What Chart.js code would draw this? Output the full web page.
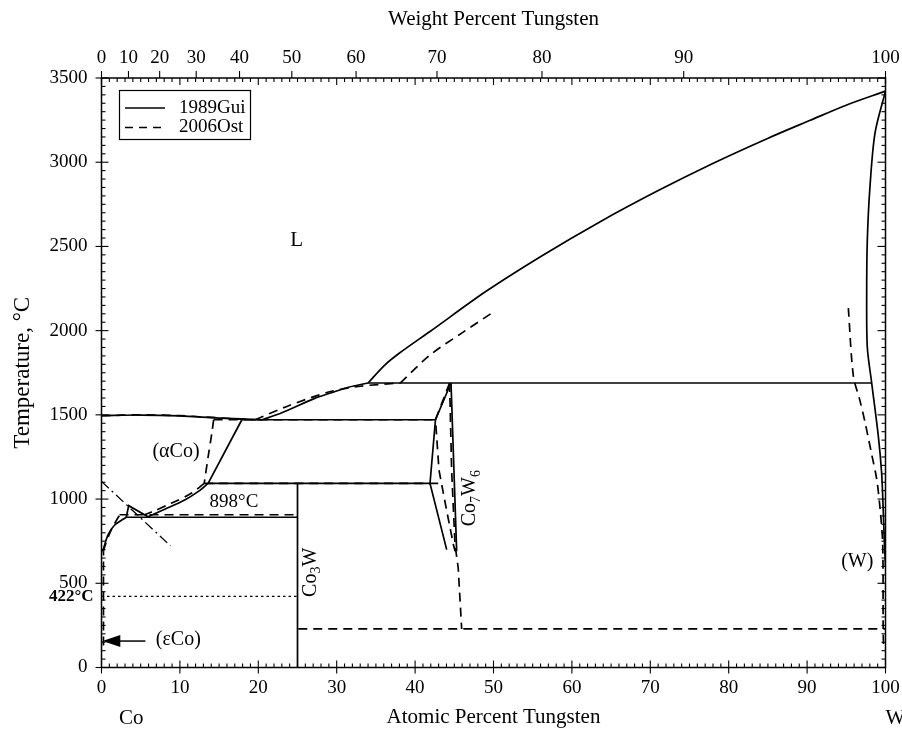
<!DOCTYPE html>
<html><head><meta charset="utf-8">
<script src="https://cdn.jsdelivr.net/npm/chart.js@4.4.0/dist/chart.umd.min.js"></script>
<style>html,body{margin:0;padding:0;background:#fff;}</style>
</head><body>
<canvas id="c" width="902" height="730"></canvas>
<script>
const FONT = "'Liberation Serif','Times New Roman',serif";

// ---- tick labels ----
const atTicks = [0,10,20,30,40,50,60,70,80,90,100];
const wtTicks = [0,10,20,30,40,50,60,70,80,90,100];
const tempTicks = [0,500,1000,1500,2000,2500,3000,3500];

// ---- 1989Gui (solid) : [at.% W, °C] ----
const guiLiquidusCo   = [[0,1495],[5,1499],[10,1494],[15,1481],[20.5,1471]];
const guiLiquidusMid  = [[20.5,1471],[23,1512],[27.2,1598],[29.1,1628],[31.5,1664],[34,1689]];
const guiLiquidusHigh = [[34,1689],[36,1790],[38.1,1870],[41.9,1995],[49.1,2235],[56.3,2448],[63.5,2644],[70.7,2824],[77.9,2991],[85.1,3144],[90.4,3249],[94.9,3337],[100,3422]];
const guiSolidusW     = [[100,3422],[98.66,3173],[98.02,2855],[97.68,2537],[97.6,2219],[97.68,1901],[98.24,1689],[99.09,1371],[99.5,1159],[99.7,947],[99.85,750],[100,600]];
const guiPeritectic   = [[34,1689],[98.24,1689]];
const guiEutectic     = [[17.9,1471],[42.6,1471]];
const guiCo3WTop      = [[13.6,1093],[41.9,1093]];
const guiCo3WBase     = [[3.16,892],[25,892]];
const guiCo3W         = [[25,0],[25,1093]];
const guiAlphaSolvusA = [[17.9,1471],[13.6,1093]];
const guiAlphaSolvusB = [[13.6,1093],[12.31,1044],[10.61,994],[8.06,939],[5.93,895]];
const guiTriangle     = [[3.16,892],[3.47,961],[5.93,895]];
const guiAlphaLow     = [[0.05,690],[0.19,698],[0.83,787],[1.68,846],[2.96,886],[3.16,892]];
const guiCo7W6Left    = [[44.58,1689],[42.6,1471],[41.9,1093],[44.03,700]];
const guiCo7W6Right   = [[44.58,1689],[45.3,690]];

// ---- 2006Ost (dashed) ----
const ostLiquidusCo   = [[0,1495],[5,1500],[10,1495],[15,1482],[19.6,1471]];
const ostLiquidusMid  = [[19.6,1471],[23.8,1553],[29.1,1637],[33,1670],[38.1,1689]];
const ostLiquidusHigh = [[38.1,1689],[41.9,1855],[45.9,1984],[50.2,2117]];
const ostEutectic     = [[14.3,1471],[42.6,1471]];
const ostCo3WTop      = [[13.1,1093],[43.4,1093]];
const ostCo3WBase     = [[2.3,907],[25,907]];
const ostAlphaSolvusA = [[14.3,1471],[14.1,1400],[13.6,1250],[13.1,1093]];
const ostAlphaSolvusB = [[13.1,1093],[11.45,1034],[8.9,975],[6.79,931],[5.51,907]];
const ostAlphaLow     = [[0.25,690],[0.41,717],[1.05,797],[1.68,856],[2.32,905],[2.6,922]];
const ostEpsilon      = [[0.25,130],[0.25,690]];
const ostCo7W6Left    = [[44.4,1689],[42.6,1471],[43.05,1171],[44.03,931],[44.88,730],[45.1,690]];
const ostCo7W6Right   = [[44.4,1689],[44.66,1171],[45.09,730],[45.5,591],[45.94,229]];
const ostLow          = [[25.1,229],[100,229]];
const ostSolvusW      = [[95.26,2134],[95.9,1731],[96.75,1583],[97.39,1456],[98.24,1265],[98.88,1117],[99.3,947],[99.64,735],[99.7,229],[99.75,130]];

// ---- other ----
const curieLine  = [[0,1105],[8.8,722]];
const line422    = [[0,422],[25,422]];

const wtToAt = w => { if (w >= 100) return 100; const a = w/183.84, b = (100-w)/58.933; return 100*a/(a+b); };
const toPts = arr => arr.map(p => ({x:p[0], y:p[1]}));

const SOLID = [], DASH = [9,6];
function ds(arr, dash, tension, width) {
  return { data: toPts(arr), showLine: true, borderColor: '#000', borderWidth: width || 1.7,
           borderDash: dash, pointRadius: 0, tension: tension || 0, fill: false,
           xAxisID: 'x', yAxisID: 'y', borderCapStyle: 'butt', borderJoinStyle: 'miter' };
}

const datasets = [
  ds(guiLiquidusCo, SOLID, 0.3), ds(guiLiquidusMid, SOLID, 0.3), ds(guiLiquidusHigh, SOLID, 0.3),
  ds(guiSolidusW, SOLID, 0.3), ds(guiPeritectic, SOLID), ds(guiEutectic, SOLID), ds(guiCo3WTop, SOLID),
  ds(guiCo3WBase, SOLID), ds(guiCo3W, SOLID), ds(guiAlphaSolvusA, SOLID), ds(guiAlphaSolvusB, SOLID, 0.3),
  ds(guiTriangle, SOLID), ds(guiAlphaLow, SOLID, 0.3), ds(guiCo7W6Left, SOLID), ds(guiCo7W6Right, SOLID),
  ds(ostLiquidusCo, DASH, 0.3), ds(ostLiquidusMid, DASH, 0.3), ds(ostLiquidusHigh, DASH, 0.3),
  ds(ostEutectic, DASH), ds(ostCo3WTop, DASH), ds(ostCo3WBase, DASH), ds(ostAlphaSolvusA, DASH, 0.3),
  ds(ostAlphaSolvusB, DASH, 0.3), ds(ostAlphaLow, DASH, 0.3), ds(ostEpsilon, DASH),
  ds(ostCo7W6Left, DASH), ds(ostCo7W6Right, DASH), ds(ostLow, DASH), ds(ostSolvusW, DASH, 0.3),
  ds(curieLine, [10,4,2,4], 0, 1.3), ds(line422, [2.5,3], 0, 1.3)
];

function subText(ctx, parts, cx, cy, rot, size) {
  ctx.save();
  ctx.translate(cx, cy); ctx.rotate(rot);
  const big = size + 'px ' + FONT, small = Math.round(size*0.72) + 'px ' + FONT;
  let w = 0;
  parts.forEach(p => { ctx.font = p[1] ? small : big; w += ctx.measureText(p[0]).width; });
  let x = -w/2;
  ctx.textBaseline = 'middle'; ctx.textAlign = 'left'; ctx.fillStyle = '#000';
  parts.forEach(p => { ctx.font = p[1] ? small : big; ctx.fillText(p[0], x, p[1] ? size*0.3 : 0); x += ctx.measureText(p[0]).width; });
  ctx.restore();
}

const noPad = s => { s.paddingLeft = 0; s.paddingRight = 0; s.paddingTop = 0; s.paddingBottom = 0; };

const decor = {
  id: 'decor',
  afterDatasetsDraw(chart) {
    const ctx = chart.ctx, xs = chart.scales.x, ys = chart.scales.y;
    const {left:L, right:R, top:T, bottom:B} = chart.chartArea;
    const X = v => xs.getPixelForValue(v), Y = v => ys.getPixelForValue(v);
    ctx.save();
    ctx.strokeStyle = '#000'; ctx.fillStyle = '#000';
    ctx.lineWidth = 1.5; ctx.setLineDash([]);
    ctx.strokeRect(L, T, R-L, B-T);
    ctx.lineWidth = 1.1;
    const seg = (x1,y1,x2,y2) => { ctx.beginPath(); ctx.moveTo(x1,y1); ctx.lineTo(x2,y2); ctx.stroke(); };
    for (let a = 0; a <= 100; a++) {
      const px = X(a);
      if (a % 10 === 0) { seg(px, B+6, px, B-7); seg(px, T, px, T+7); }
      else { seg(px, B, px, B-4); seg(px, T, px, T+4); }
    }
    wtTicks.forEach(w => { const px = X(wtToAt(w)); seg(px, T-7, px, T + (w===0||w===100 ? 6 : 0)); });
    for (let t = 0; t <= 3500; t += 50) {
      const py = Y(t);
      if (t % 500 === 0) { seg(L-6, py, L+7, py); seg(R-8, py, R, py); }
      else { seg(L, py, L+4, py); seg(R-4, py, R, py); }
    }
    // legend
    ctx.lineWidth = 1.2;
    ctx.strokeRect(119.5, 90.5, 131, 49);
    ctx.lineWidth = 1.7;
    seg(125, 108, 165, 108);
    ctx.setLineDash([8,6]); seg(125, 127.5, 166, 127.5); ctx.setLineDash([]);
    ctx.font = '19px ' + FONT; ctx.textBaseline = 'middle'; ctx.textAlign = 'left';
    ctx.fillText('1989Gui', 179, 108);
    ctx.fillText('2006Ost', 179, 127.5);
    // labels
    ctx.textAlign = 'center';
    ctx.font = '21px ' + FONT; ctx.fillText('L', X(24.9), Y(2533));
    ctx.font = '20px ' + FONT; ctx.fillText('(\u03b1Co)', X(9.5), Y(1279));
    ctx.font = '19px ' + FONT; ctx.fillText('898\u00b0C', X(16.9), Y(983));
    ctx.font = '20px ' + FONT; ctx.fillText('(W)', X(96.4), Y(626));
    ctx.font = '20px ' + FONT; ctx.fillText('(\u03b5Co)', X(9.8), Y(163));
    ctx.font = 'bold 17px ' + FONT; ctx.textAlign = 'right'; ctx.fillText('422\u00b0C', L-8, Y(420));
    // arrow to (eCo)
    ctx.lineWidth = 1.5;
    const ay = Y(157);
    seg(X(5.6), ay, X(1.8), ay);
    ctx.beginPath(); ctx.moveTo(X(0.12), ay); ctx.lineTo(X(2.4), ay-6); ctx.lineTo(X(2.4), ay+6); ctx.closePath(); ctx.fill();
    // rotated compound labels
    subText(ctx, [['Co',0],['3',1],['W',0]], X(26.7), Y(565), -Math.PI/2, 20);
    subText(ctx, [['Co',0],['7',1],['W',0],['6',1]], X(47.0), Y(1005), -Math.PI/2, 20);
    // Co / W
    ctx.font = '21px ' + FONT; ctx.textAlign = 'center'; ctx.textBaseline = 'middle';
    ctx.fillText('Co', X(3.8), 718);
    ctx.fillText('W', X(100) + 10, 718);
    ctx.restore();
  }
};

new Chart(document.getElementById('c'), {
  type: 'scatter',
  data: { datasets },
  options: {
    responsive: false, animation: false, devicePixelRatio: 1,
    layout: { padding: { left: 0, right: 16.5, top: 0, bottom: 0 } },
    plugins: { legend: { display: false }, tooltip: { enabled: false } },
    scales: {
      x: {
        type: 'linear', position: 'bottom', min: 0, max: 100,
        afterBuildTicks: s => { s.ticks = atTicks.map(v => ({value: v})); },
        ticks: { font: {family: FONT, size: 19}, color: '#000', padding: 9, maxRotation: 0, minRotation: 0, autoSkip: false, callback: v => String(v) },
        grid: { display: false, drawTicks: false }, border: { display: false },
        title: { display: true, text: 'Atomic Percent Tungsten', font: {family: FONT, size: 21}, color: '#000', padding: {top: 0, bottom: 0} },
        afterFit: s => { s.height = 62.5; noPad(s); }
      },
      x2: {
        type: 'linear', position: 'top', min: 0, max: 100,
        afterBuildTicks: s => { s.ticks = wtTicks.map(w => ({value: wtToAt(w)})); },
        ticks: { font: {family: FONT, size: 19}, color: '#000', padding: 9, maxRotation: 0, minRotation: 0, autoSkip: false, callback: (v, i) => String(wtTicks[i]) },
        grid: { display: false, drawTicks: false }, border: { display: false },
        title: { display: true, text: 'Weight Percent Tungsten', font: {family: FONT, size: 21}, color: '#000', padding: {top: 7, bottom: 0} },
        afterFit: s => { s.height = 78; noPad(s); }
      },
      y: {
        type: 'linear', position: 'left', min: 0, max: 3500,
        afterBuildTicks: s => { s.ticks = tempTicks.map(v => ({value: v})); },
        ticks: { font: {family: FONT, size: 19}, color: '#000', padding: 14, autoSkip: false, callback: v => String(v) },
        grid: { display: false, drawTicks: false }, border: { display: false },
        title: { display: true, text: 'Temperature, \u00b0C', font: {family: FONT, size: 23}, color: '#000', padding: {top: 9, bottom: 0} },
        afterFit: s => { s.width = 101.5; noPad(s); }
      }
    }
  },
  plugins: [decor]
});
</script>
</body></html>
